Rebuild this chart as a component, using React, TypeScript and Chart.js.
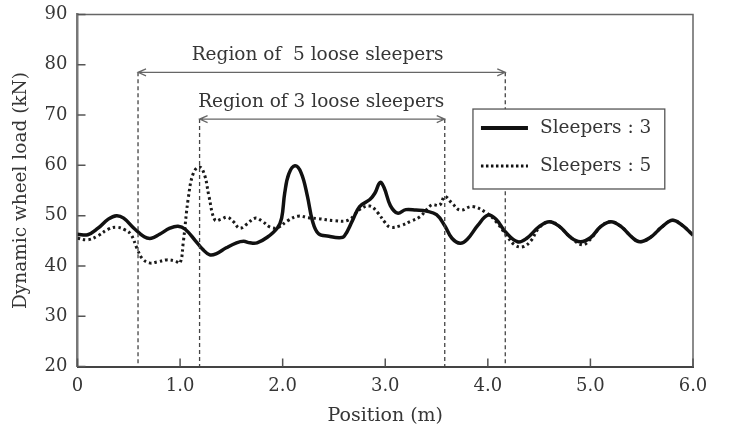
import { useEffect, useRef } from "react";
import { Chart, registerables } from "chart.js";

Chart.register(...registerables);

const pos3 = [0, 0.1, 0.2, 0.3, 0.38, 0.45, 0.55, 0.65, 0.72, 0.8, 0.9, 0.98, 1.05, 1.15, 1.22, 1.29, 1.35, 1.45, 1.55, 1.62, 1.68, 1.75, 1.85, 1.95, 1.99, 2.02, 2.06, 2.12, 2.18, 2.24, 2.29, 2.35, 2.45, 2.55, 2.6, 2.68, 2.75, 2.85, 2.9, 2.95, 2.99, 3.05, 3.12, 3.2, 3.3, 3.4, 3.5, 3.58, 3.65, 3.73, 3.8, 3.9, 4.0, 4.08, 4.17, 4.29, 4.38, 4.5, 4.6, 4.7, 4.8, 4.9, 5.0, 5.1, 5.2, 5.3, 5.4, 5.48, 5.58, 5.7, 5.8, 5.9, 6.0];
const load3 = [46.3, 46.2, 47.5, 49.3, 50.0, 49.5, 47.5, 45.8, 45.5, 46.3, 47.5, 47.9, 47.3, 45.0, 43.3, 42.2, 42.4, 43.6, 44.6, 44.9, 44.6, 44.6, 45.7, 47.6, 49.5, 54.5, 58.3, 59.9, 58.5, 54.0, 49.0, 46.4, 45.9, 45.6, 45.9, 49.0, 51.8, 53.2, 54.5, 56.6, 55.5, 52.0, 50.5, 51.2, 51.1, 50.9, 50.2, 48.0, 45.5, 44.5, 45.3, 48.0, 50.1, 49.3, 46.8, 44.8, 45.5, 47.8, 48.8, 47.8, 45.8, 44.8, 45.6, 47.8, 48.8, 47.8, 45.8, 44.8, 45.6, 47.8, 49.1, 48.0, 46.1];

const pos5 = [0, 0.1, 0.2, 0.3, 0.38, 0.46, 0.52, 0.58, 0.63, 0.7, 0.78, 0.87, 0.95, 1.0, 1.03, 1.08, 1.13, 1.19, 1.24, 1.28, 1.34, 1.4, 1.46, 1.52, 1.58, 1.65, 1.73, 1.8, 1.88, 1.95, 2.05, 2.15, 2.25, 2.35, 2.5, 2.64, 2.75, 2.85, 2.93, 3.0, 3.05, 3.15, 3.25, 3.34, 3.45, 3.53, 3.58, 3.65, 3.73, 3.85, 3.99, 4.08, 4.18, 4.26, 4.34, 4.42, 4.5, 4.6, 4.7, 4.8, 4.92, 5.0, 5.1, 5.2, 5.3, 5.4, 5.48, 5.58, 5.7, 5.8, 5.9, 6.0];
const load5 = [45.5, 45.2, 46.0, 47.3, 47.7, 47.2, 46.3, 43.5, 41.5, 40.6, 40.8, 41.2, 41.0, 40.6, 44.5, 53.5, 58.5, 59.7, 58.0, 54.0, 49.1, 49.3, 49.7, 48.8, 47.5, 48.3, 49.5, 48.9, 47.7, 47.6, 49.0, 49.9, 49.6, 49.4, 49.0, 49.1, 51.2, 51.9, 50.5, 48.6, 47.7, 48.0, 48.9, 49.8, 52.1, 52.1, 53.8, 52.5, 51.1, 51.8, 50.5, 48.8, 46.1, 44.2, 43.8, 45.0, 47.6, 48.8, 47.8, 45.8, 44.2, 45.3, 47.8, 48.8, 47.8, 45.8, 44.8, 45.6, 47.8, 49.1, 48.0, 46.1];

const xTicks = [0, 1, 2, 3, 4, 5, 6];
const yTicks = [20, 30, 40, 50, 60, 70, 80, 90];
const seriesNames = ["Sleepers : 3", "Sleepers : 5"];
const xTitle = "Position (m)";
const yTitle = "Dynamic wheel load (kN)";
const regionLabels = ["Region of  5 loose sleepers", "Region of 3 loose sleepers"];
const regionStart = [0.59, 1.19];
const regionEnd = [4.17, 3.58];
const regionArrowLoad = [78.5, 69.2];

const FONT = '"DejaVu Serif", "Liberation Serif", serif';
const TEXT = "#363636";

const overlay = {
  id: "overlay",
  afterDatasetsDraw(chart: any) {
    const ctx = chart.ctx;
    const xs = chart.scales.x;
    const ys = chart.scales.y;
    const a = chart.chartArea;
    ctx.save();
    // frame top/right
    ctx.strokeStyle = "#666";
    ctx.lineWidth = 1.5;
    ctx.beginPath();
    ctx.moveTo(a.left, a.top);
    ctx.lineTo(a.right, a.top);
    ctx.lineTo(a.right, a.bottom);
    ctx.stroke();
    // inside ticks
    ctx.strokeStyle = "#555";
    ctx.lineWidth = 1.5;
    ctx.beginPath();
    yTicks.forEach((v) => {
      const py = ys.getPixelForValue(v);
      ctx.moveTo(a.left, py);
      ctx.lineTo(a.left + 8, py);
    });
    xTicks.forEach((v) => {
      const px = xs.getPixelForValue(v);
      ctx.moveTo(px, a.bottom);
      ctx.lineTo(px, a.bottom - 8);
    });
    ctx.stroke();
    // region lines and arrows
    for (let i = 0; i < regionLabels.length; i++) {
      const x1 = xs.getPixelForValue(regionStart[i]);
      const x2 = xs.getPixelForValue(regionEnd[i]);
      const y = ys.getPixelForValue(regionArrowLoad[i]);
      ctx.strokeStyle = "#444";
      ctx.lineWidth = 1.3;
      ctx.setLineDash([4, 3]);
      ctx.beginPath();
      ctx.moveTo(x1, y);
      ctx.lineTo(x1, a.bottom);
      ctx.moveTo(x2, y);
      ctx.lineTo(x2, a.bottom);
      ctx.stroke();
      ctx.setLineDash([]);
      ctx.strokeStyle = "#666";
      ctx.lineWidth = 1.2;
      ctx.beginPath();
      ctx.moveTo(x1, y);
      ctx.lineTo(x2, y);
      ctx.moveTo(x1 + 8, y - 3.5);
      ctx.lineTo(x1, y);
      ctx.lineTo(x1 + 8, y + 3.5);
      ctx.moveTo(x2 - 8, y - 3.5);
      ctx.lineTo(x2, y);
      ctx.lineTo(x2 - 8, y + 3.5);
      ctx.stroke();
      ctx.fillStyle = TEXT;
      ctx.font = `18.5px ${FONT}`;
      ctx.textAlign = "center";
      ctx.textBaseline = "middle";
      ctx.fillText(regionLabels[i], (x1 + x2) / 2 + (i === 0 ? -4 : -1), y - 17);
    }
    // legend
    const lx = xs.getPixelForValue(3.855);
    const rx = xs.getPixelForValue(5.725);
    const ty = ys.getPixelForValue(71.2);
    const by = ys.getPixelForValue(55.3);
    ctx.fillStyle = "#fff";
    ctx.fillRect(lx, ty, rx - lx, by - ty);
    ctx.strokeStyle = "#555";
    ctx.lineWidth = 1.3;
    ctx.strokeRect(lx, ty, rx - lx, by - ty);
    const rows = [ty + 19, ty + 57];
    rows.forEach((ry, i) => {
      ctx.strokeStyle = "#111";
      if (i === 0) {
        ctx.lineWidth = 4;
        ctx.setLineDash([]);
      } else {
        ctx.lineWidth = 3;
        ctx.setLineDash([2.5, 2.5]);
      }
      ctx.beginPath();
      ctx.moveTo(lx + 8, ry);
      ctx.lineTo(lx + 55, ry);
      ctx.stroke();
      ctx.setLineDash([]);
      ctx.fillStyle = TEXT;
      ctx.font = `18.5px ${FONT}`;
      ctx.textAlign = "left";
      ctx.textBaseline = "middle";
      ctx.fillText(seriesNames[i], lx + 67, ry);
    });
    ctx.restore();
  },
};

export default function App() {
  const ref = useRef<HTMLCanvasElement | null>(null);
  useEffect(() => {
    if (!ref.current) return;
    const chart = new Chart(ref.current, {
      type: "line",
      data: {
        datasets: [
          {
            label: seriesNames[0],
            data: pos3.map((x, i) => ({ x, y: load3[i] })),
            borderColor: "#111",
            borderWidth: 3.5,
            pointRadius: 0,
            tension: 0.4,
            fill: false,
          },
          {
            label: seriesNames[1],
            data: pos5.map((x, i) => ({ x, y: load5[i] })),
            borderColor: "#1a1a1a",
            borderWidth: 3,
            borderDash: [2.5, 3],
            pointRadius: 0,
            tension: 0.4,
            fill: false,
          },
        ],
      },
      options: {
        animation: false,
        responsive: false,
        maintainAspectRatio: false,
        layout: { padding: { left: 0, right: 37, top: 14.5, bottom: 0 } },
        plugins: { legend: { display: false }, tooltip: { enabled: false } },
        scales: {
          x: {
            type: "linear",
            min: 0,
            max: 6,
            afterFit: (s: any) => {
              s.height = 68.5;
              s.paddingLeft = 0;
              s.paddingRight = 0;
            },
            afterBuildTicks: (s: any) => {
              s.ticks = xTicks.map((v) => ({ value: v }));
            },
            grid: { display: false, drawTicks: false },
            border: { display: true, color: "#444", width: 2 },
            ticks: {
              color: TEXT,
              font: { family: FONT, size: 18 },
              padding: 9,
              maxRotation: 0,
              callback: (v: any) => (Number(v) === 0 ? "0" : Number(v).toFixed(1)),
            },
            title: {
              display: true,
              text: xTitle,
              color: TEXT,
              font: { family: FONT, size: 19 },
              padding: { top: 2, bottom: 8 },
            },
          },
          y: {
            type: "linear",
            min: 20,
            max: 90,
            afterFit: (s: any) => {
              s.width = 77.5;
              s.paddingTop = 0;
              s.paddingBottom = 0;
            },
            afterBuildTicks: (s: any) => {
              s.ticks = yTicks.map((v) => ({ value: v }));
            },
            grid: { display: false, drawTicks: false },
            border: { display: true, color: "#777", width: 2.5 },
            ticks: {
              color: TEXT,
              font: { family: FONT, size: 18 },
              padding: 10,
            },
            title: {
              display: true,
              text: yTitle,
              color: TEXT,
              font: { family: FONT, size: 18.5 },
              padding: { top: 10, bottom: 0 },
            },
          },
        },
      },
      plugins: [overlay],
    });
    return () => chart.destroy();
  }, []);
  return (
    <div style={{ position: "fixed", left: 0, top: 0, width: 730, height: 435, background: "#fff" }}>
      <canvas ref={ref} width={730} height={435} style={{ width: 730, height: 435 }} />
    </div>
  );
}
